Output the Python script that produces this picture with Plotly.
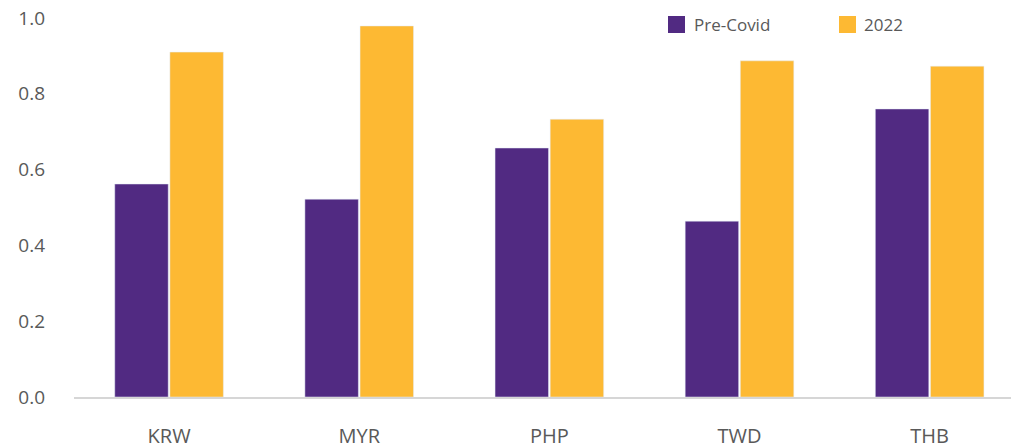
import plotly.graph_objects as go

categories = ["KRW", "MYR", "PHP", "TWD", "THB"]
pre_covid = [0.562, 0.522, 0.657, 0.464, 0.760]
y2022 = [0.910, 0.979, 0.733, 0.887, 0.873]
yticks = [0.0, 0.2, 0.4, 0.6, 0.8, 1.0]
series_names = ["Pre-Covid", "2022"]

purple = "#512A82"
orange = "#FDB933"
textc = "#595959"
font = "Open Sans, Noto Sans, sans-serif"

# The page body has an 8px default margin; size the figure so it fits the window.
W, H = 1011, 437
L, R, T, B = 66, 0, 10, 48

fig = go.Figure()
fig.add_trace(go.Bar(name=series_names[0], x=categories, y=pre_covid, marker_color=purple))
fig.add_trace(go.Bar(name=series_names[1], x=categories, y=y2022, marker_color=orange))

pw, ph = W - L - R, H - T - B


def px_x(p):
    return (p - 8 - L) / pw


def px_y(p):
    return (H - B + 8 - p) / ph


# manual legend (large square swatches, as in the reference)
legend_items = [(series_names[0], purple, 668, 692), (series_names[1], orange, 839, 862)]
for name, col, sx, tx in legend_items:
    fig.add_shape(type="rect", xref="paper", yref="paper",
                  x0=px_x(sx), x1=px_x(sx + 17), y0=px_y(33), y1=px_y(16),
                  fillcolor=col, line=dict(width=0), layer="above")
    fig.add_annotation(xref="paper", yref="paper", x=px_x(tx), y=px_y(24.5),
                       text=name, showarrow=False, xanchor="left", yanchor="middle",
                       font=dict(size=17, color=textc, family=font))

fig.update_layout(
    width=W, height=H,
    margin=dict(l=L, r=R, t=T, b=B, autoexpand=False),
    paper_bgcolor="white", plot_bgcolor="white",
    barmode="group", bargap=0.42, bargroupgap=0.03,
    font=dict(family=font, size=16, color=textc),
    showlegend=False,
)
fig.update_xaxes(range=[-0.5, 4.47], showline=True, linecolor="#d6d6d6", linewidth=2,
                 showgrid=False, ticks="", ticklabelstandoff=20, automargin=False,
                 ticklabeloverflow="allow",
                 tickfont=dict(size=20, color=textc))
fig.update_yaxes(range=[0, 1.0], tickvals=yticks, tickformat=".1f", showgrid=False,
                 zeroline=False, showline=False, ticks="", ticklabelstandoff=28,
                 automargin=False, ticklabeloverflow="allow",
                 tickfont=dict(size=19, color=textc))

fig.write_html("out.html")
